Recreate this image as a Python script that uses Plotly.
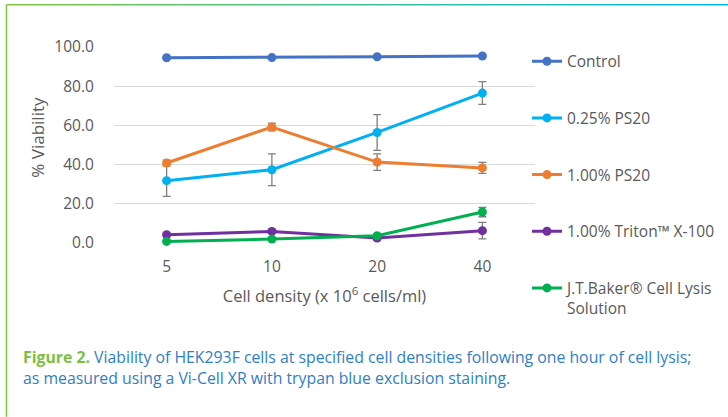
import plotly.graph_objects as go

categories = ["5", "10", "20", "40"]
series_names = ["Control", "0.25% PS20", "1.00% PS20", "1.00% Triton™ X-100",
                "J.T.Baker® Cell Lysis<br>Solution"]
control = [94.5, 94.6, 95.0, 95.4]
ps20_025 = [31.8, 37.4, 56.4, 76.5]
ps20_100 = [40.8, 59.2, 41.3, 38.3]
triton = [4.2, 5.9, 2.5, 6.3]
jtbaker = [0.8, 2.0, 3.7, 15.8]
err_control = [0.6, 0.6, 0.6, 0.6]
err_ps20_025 = [8.0, 8.1, 9.1, 5.8]
err_ps20_100 = [1.5, 2.0, 4.2, 2.8]
err_triton = [0.8, 1.0, 1.0, 4.2]
err_jtbaker = [0.5, 0.8, 1.0, 2.4]
y_ticks = [0, 20, 40, 60, 80, 100]

colors = ["#4472C4", "#00B0F0", "#ED7D31", "#7030A0", "#00B050"]
values = [control, ps20_025, ps20_100, triton, jtbaker]
errors = [err_control, err_ps20_025, err_ps20_100, err_triton, err_jtbaker]

fig = go.Figure()
for i, (name, vals, errs, col) in enumerate(zip(series_names, values, errors, colors)):
    fig.add_trace(go.Scatter(
        x=categories, y=vals, name=name, mode="lines+markers",
        line=dict(color=col, width=3),
        marker=dict(color=col, size=9),
        error_y=dict(type="data", array=errs, visible=True, color="#7F7F7F",
                     thickness=1.3, width=4),
        legendgroup=f"g{i}", cliponaxis=False,
    ))

# plot area in pixels
L, R, T, B = 114, 535, 47.3, 243.3
W, H = 728, 417

def px_x(p):
    return (p - L) / (R - L)

def px_y(p):
    return (B - p) / (B - T)

legend_cfg = dict(x=px_x(527), xanchor="left", y=px_y(45), yanchor="top",
                  tracegroupgap=33.5, valign="top", itemwidth=30,
                  font=dict(family="Open Sans", size=15.5, color="#595959"),
                  bgcolor="rgba(0,0,0,0)")

fig.update_layout(
    width=W, height=H,
    margin=dict(l=L, r=W - R, t=T, b=H - B, autoexpand=False),
    paper_bgcolor="white", plot_bgcolor="white",
    font=dict(family="Open Sans", size=15.5, color="#595959"),
    showlegend=True,
    xaxis=dict(type="category", categoryorder="array", categoryarray=categories,
               range=[-0.5, 3.5], showgrid=False, zeroline=False, showline=False,
               ticks="outside", ticklen=9, tickcolor="rgba(0,0,0,0)",
               tickfont=dict(size=15.5, color="#595959"),
               title=dict(text="Cell density (x 10<sup>6</sup> cells/ml)", standoff=14,
                          font=dict(size=16.5, color="#595959"))),
    yaxis=dict(range=[0, 100], tickvals=y_ticks, tickformat=".1f",
               showgrid=True, gridcolor="#D9D9D9", gridwidth=1, zeroline=False,
               showline=False, ticks="outside", ticklen=16, tickcolor="rgba(0,0,0,0)",
               tickfont=dict(size=15.5, color="#595959")),
)
try:
    fig.update_layout(legend=dict(legend_cfg, maxheight=400))
except Exception:
    fig.update_layout(legend=legend_cfg)

# y-axis title as rotated text
fig.add_annotation(xref="paper", yref="paper", x=px_x(38), y=px_y(138),
                   xanchor="center", yanchor="middle", textangle=-90, showarrow=False,
                   text="% Viability", font=dict(family="Open Sans", size=17, color="#595959"))

# frame: left green line and top gradient line
fig.add_shape(type="line", xref="paper", yref="paper",
              x0=px_x(6.5), x1=px_x(6.5), y0=px_y(5), y1=px_y(417),
              line=dict(color="#7DC242", width=1.5))
c0 = (125, 194, 66)
c1 = (0, 183, 235)
n = 60
x_start, x_end = 6.5, 728
for k in range(n):
    t = k / (n - 1)
    col = "rgb({},{},{})".format(*[int(round(a + (b - a) * t)) for a, b in zip(c0, c1)])
    xa = x_start + (x_end - x_start) * k / n
    xb = x_start + (x_end - x_start) * (k + 1) / n
    fig.add_shape(type="line", xref="paper", yref="paper",
                  x0=px_x(xa), x1=px_x(xb + 0.5), y0=px_y(5), y1=px_y(5),
                  line=dict(color=col, width=1.5))

fig.add_annotation(
    xref="paper", yref="paper", x=px_x(21), y=px_y(344), xanchor="left", yanchor="top",
    align="left", showarrow=False,
    text=("<span style='color:#7AC143'><b>Figure 2.</b></span> Viability of HEK293F cells at "
          "specified cell densities following one hour of cell lysis;<br>"
          "as measured using a Vi-Cell XR with trypan blue exclusion staining."),
    font=dict(family="Open Sans", size=15.8, color="#2F80C3"),
)

fig.write_html("out.html", config={"displayModeBar": False},
               post_script="document.body.style.margin='0';document.body.style.overflow='hidden';")
